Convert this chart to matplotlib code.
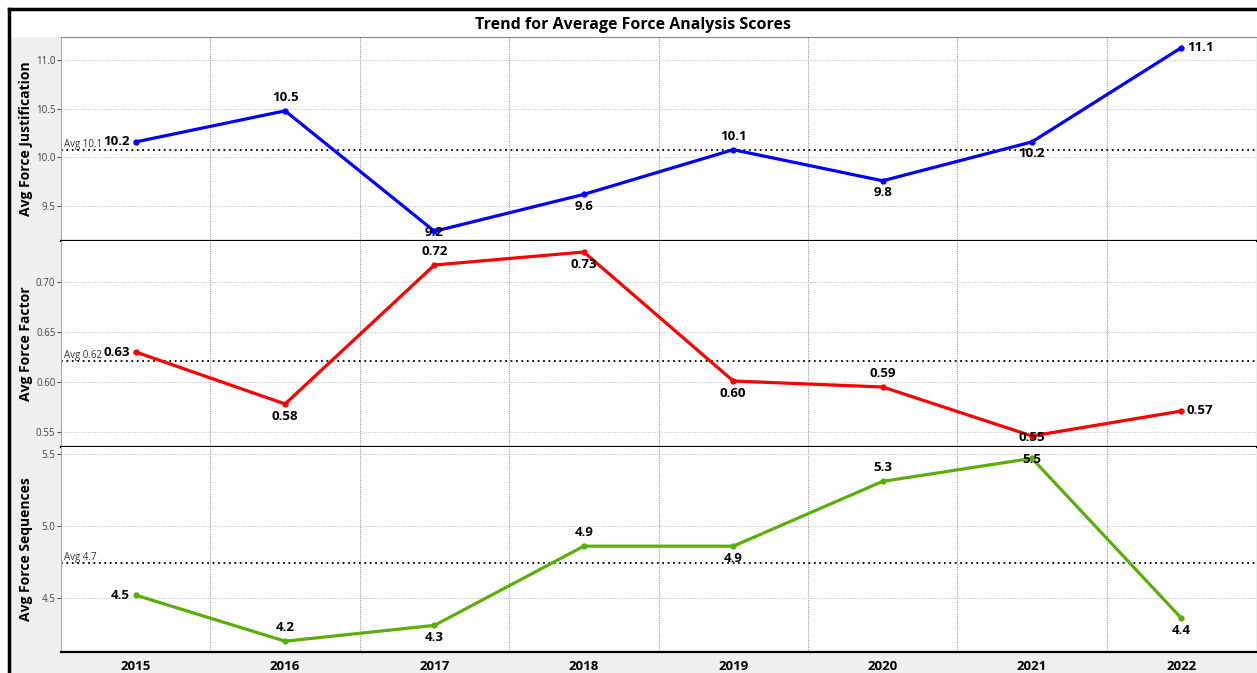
import matplotlib.pyplot as plt

plt.rcParams['font.family'] = ['Open Sans', 'DejaVu Sans']

years = ['2015', '2016', '2017', '2018', '2019', '2020', '2021', '2022']
justification = [10.16, 10.48, 9.24, 9.62, 10.08, 9.76, 10.16, 11.13]
factor = [0.630, 0.578, 0.717, 0.730, 0.601, 0.595, 0.546, 0.571]
sequences = [4.52, 4.20, 4.31, 4.86, 4.86, 5.31, 5.47, 4.36]
averages = [10.08, 0.621, 4.74]
avg_labels = ['Avg 10.1', 'Avg 0.62', 'Avg 4.7']
value_fmt = ['{:.1f}', '{:.2f}', '{:.1f}']
ylabels = ['Avg Force Justification', 'Avg Force Factor', 'Avg Force Sequences']
yticks = [[9.5, 10.0, 10.5, 11.0], [0.55, 0.60, 0.65, 0.70], [4.5, 5.0, 5.5]]
ylims = [(9.14, 11.24), (0.535, 0.741), (4.125, 5.549)]
colors = ['#0000ff', '#ff0000', '#5aae0a']
# where each value label sits relative to its point
placements = [
    ['L', 'A', 'C', 'B', 'A', 'B', 'B', 'R'],
    ['L', 'B', 'A', 'B', 'B', 'A', 'C', 'R'],
    ['L', 'A', 'B', 'A', 'B', 'A', 'C', 'B'],
]
series = [justification, factor, sequences]

W, H = 1257, 673
fig = plt.figure(figsize=(W / 100, H / 100), dpi=100)

# gray backdrop behind the label column and the year strip
gray = '#efefef'
bg = fig.add_axes([10 / W, 0, 1 - 10 / W, 1 - 37 / H], zorder=-10)
bg.set_facecolor(gray)
bg.set_xticks([])
bg.set_yticks([])
for s in bg.spines.values():
    s.set_visible(False)

# outer border
fig.add_artist(plt.Line2D([9 / W, 9 / W], [0, 1 - 9 / H], transform=fig.transFigure,
                          color='black', lw=2.5))
fig.add_artist(plt.Line2D([9 / W, 1], [1 - 9 / H, 1 - 9 / H], transform=fig.transFigure,
                          color='black', lw=2.5))

fig.text(633 / W, 1 - 25 / H, 'Trend for Average Force Analysis Scores',
         ha='center', va='center', fontsize=11.5, fontweight='bold')

tops = [37, 241, 447]
bottoms = [241, 447, 652]
x = list(range(len(years)))
left, right = 61, 1256

for i in range(3):
    ax = fig.add_axes([left / W, 1 - bottoms[i] / H, (right - left) / W,
                       (bottoms[i] - tops[i]) / H])
    ax.set_facecolor('white')
    ax.plot(x, series[i], color=colors[i], lw=2.3, marker='o', ms=3.5, zorder=3)
    ax.axhline(averages[i], color='black', ls=(0, (1, 2)), lw=1.3, zorder=2)
    ax.text(-0.48, averages[i], avg_labels[i], fontsize=7, color='#333333',
            va='bottom', ha='left', zorder=4)
    for xi, v, p in zip(x, series[i], placements[i]):
        txt = value_fmt[i].format(v)
        if p == 'L':
            off, ha, va = (-4, 0), 'right', 'center'
        elif p == 'R':
            off, ha, va = (4, 0), 'left', 'center'
        elif p == 'A':
            off, ha, va = (0, 5), 'center', 'bottom'
        elif p == 'C':
            off, ha, va = (0, -1), 'center', 'center'
        else:
            off, ha, va = (0, -4), 'center', 'top'
        ax.annotate(txt, (xi, v), xytext=off, textcoords='offset points',
                    ha=ha, va=va, fontsize=9.5, fontweight='bold', zorder=5)
    ax.set_xlim(-0.5, len(years) - 0.5)
    ax.set_ylim(*ylims[i])
    ax.set_yticks(yticks[i])
    ax.set_yticklabels([('{:.2f}' if i == 1 else '{:.1f}').format(t) for t in yticks[i]])
    ax.tick_params(axis='y', labelsize=7, labelcolor='#444444', length=3, width=0.8,
                   color='#555555', pad=1)
    ax.grid(axis='y', color='#cccccc', ls=(0, (1, 1)), lw=0.8)
    for b in range(1, len(years)):
        ax.axvline(b - 0.5, color='#999999', ls=(0, (1, 1)), lw=0.8, zorder=1)
    ax.set_ylabel(ylabels[i], fontsize=10, fontweight='bold')
    ax.yaxis.set_label_coords(-28 / (right - left), 0.5)
    for s in ['top', 'right']:
        ax.spines[s].set_visible(False)
    ax.spines['left'].set_color('#aaaaaa')
    ax.spines['bottom'].set_color('black')
    ax.spines['bottom'].set_linewidth(1.6)
    if i == 0:
        ax.spines['top'].set_visible(True)
        ax.spines['top'].set_color('#888888')
    if i < 2:
        ax.set_xticks([])
    else:
        ax.set_xticks(x)
        ax.set_xticklabels(years, fontsize=9.5, fontweight='bold')
        ax.tick_params(axis='x', length=0, pad=6)

fig.savefig('out.png', dpi=100)
